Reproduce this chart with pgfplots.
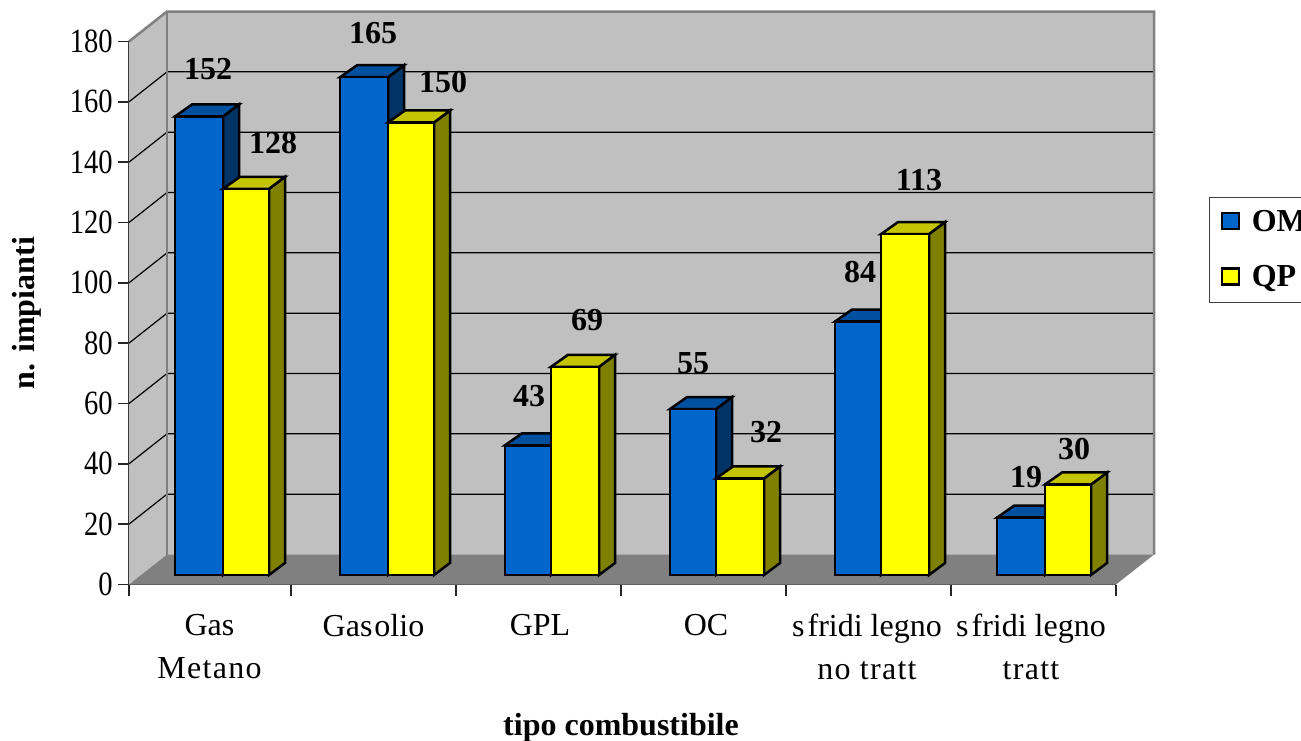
\documentclass[border=0pt]{standalone}
\usepackage{fontspec}
\setmainfont{Liberation Serif}
\usepackage{pgfplots}
\pgfplotsset{compat=1.18}
\definecolor{wallgray}{RGB}{192,192,192}
\definecolor{floorgray}{RGB}{128,128,128}
\definecolor{bluefront}{RGB}{0,102,204}
\definecolor{bluetop}{RGB}{0,80,160}
\definecolor{blueside}{RGB}{0,51,102}
\definecolor{yelfront}{RGB}{255,255,0}
\definecolor{yeltop}{RGB}{196,196,0}
\definecolor{yelside}{RGB}{128,128,0}
\newfontfamily\tickfont[FakeStretch=0.84]{Liberation Serif}
\newcommand\spaced[1]{{\addfontfeature{LetterSpace=4}#1}}

% x is in reference pixels, y in plant counts
% #1 left, #2 right, #3 value, #4 colour prefix, #5 label x pixel, #6 label y pixel
\newcommand\tdbar[6]{%
  \pgfmathsetmacro\ya{3.15}%
  \pgfmathsetmacro\yb{3.15+#3}%
  \pgfmathsetmacro\yc{\ya+3.98}%
  \pgfmathsetmacro\yd{\yb+3.98}%
  \pgfmathsetmacro\xc{#2+16}%
  \pgfmathsetmacro\xd{#1+17}%
  \pgfmathsetmacro\ly{(584.5-#6)/3.0167}%
  \edef\tmp{%
    \noexpand\addplot[forget plot,draw=black,line width=1.25pt,line join=miter,fill=#4side]
      coordinates {(#2,\ya) (\xc,\yc) (\xc,\yd) (#2,\yb)} -- cycle;
    \noexpand\addplot[forget plot,draw=black,line width=1.25pt,line join=miter,fill=#4top]
      coordinates {(#1,\yb) (\xd,\yd) (\xc,\yd) (#2,\yb)} -- cycle;
    \noexpand\addplot[forget plot,draw=black,line width=1.25pt,line join=miter,fill=#4front]
      coordinates {(#1,\ya) (#1,\yb) (#2,\yb) (#2,\ya)} -- cycle;
    \noexpand\node[dlabel] at (axis cs:#5,\ly) {#3};
  }\tmp
}

\begin{document}
\begin{tikzpicture}[
    dlabel/.style={font=\fontsize{16}{16}\selectfont\bfseries,inner sep=0pt}]
\useasboundingbox (0pt,0pt) rectangle (650.5pt,370pt);
\begin{axis}[
    at={(64.5pt,77.75pt)}, anchor=south west,
    scale only axis, width=493.5pt, height=271.5pt,
    xmin=129, xmax=1116, ymin=0, ymax=180,
    clip=false,
    axis x line=bottom, axis y line=left,
    axis line style={-, color=black!85, line width=0.8pt},
    tick style={color=black!85, line width=0.8pt},
    major tick length=5.5pt,
    tick align=outside,
    ytick={0,20,...,180},
    /pgf/number format/assume math mode=true,
    yticklabel style={font=\tickfont\fontsize{17}{17}\selectfont, inner sep=0pt, xshift=-2.5pt},
    xtick={129,291,456,621,786,951,1116},
    xticklabels={},
    extra x ticks={209.5,373.5,540,706,867,1031},
    extra x tick labels={{Gas\\\spaced{Metano}},{Gas\kern1pt olio},GPL,OC,
      {s\kern1.5pt fridi legno\\\spaced{no tratt}},{s\kern1.5pt fridi legno\\\spaced{tratt}}},
    extra x tick style={
      major tick length=0pt,
      tick style={draw=none},
      xticklabel style={font=\fontsize{16}{21.5}\selectfont, align=center, inner sep=0pt, yshift=-14.5pt, anchor=north},
    },
    xlabel={\bfseries tipo combustibile},
    xlabel style={font=\fontsize{16}{16}\selectfont, at={(axis cs:621,-47.5)}, anchor=center, inner sep=0pt},
    ylabel={\bfseries n. impianti},
    ylabel style={font=\fontsize{16}{16}\selectfont, at={(axis cs:27,90)}, anchor=center, inner sep=0pt, rotate=0},
    legend style={at={(axis cs:1209,128.6)}, anchor=north west, draw=black!75, line width=0.6pt,
      font=\fontsize{16}{16}\selectfont\bfseries, row sep=11.5pt, inner xsep=5.5pt, inner ysep=4.5pt},
    legend cell align=left,
    legend image code/.code={\draw[#1,line width=1.1pt] (0pt,-3.5pt) rectangle (8.5pt,4.5pt);},
]
% walls and floor
\addplot[forget plot,fill=wallgray,draw=none] coordinates {(129,0) (167,9.94) (167,189.94) (129,180)} -- cycle;
\addplot[forget plot,fill=wallgray,draw=none] coordinates {(167,9.94) (1154,9.94) (1154,189.94) (167,189.94)} -- cycle;
\addplot[forget plot,fill=floorgray,draw=none] coordinates {(129,0) (167,9.94) (1154,9.94) (1116,0)} -- cycle;
% gridlines, value by value
\addplot[forget plot,black,line width=0.6pt] coordinates {(129,20) (167,29.94) (1154,29.94)};
\addplot[forget plot,black,line width=0.6pt] coordinates {(129,40) (167,49.94) (1154,49.94)};
\addplot[forget plot,black,line width=0.6pt] coordinates {(129,60) (167,69.94) (1154,69.94)};
\addplot[forget plot,black,line width=0.6pt] coordinates {(129,80) (167,89.94) (1154,89.94)};
\addplot[forget plot,black,line width=0.6pt] coordinates {(129,100) (167,109.94) (1154,109.94)};
\addplot[forget plot,black,line width=0.6pt] coordinates {(129,120) (167,129.94) (1154,129.94)};
\addplot[forget plot,black,line width=0.6pt] coordinates {(129,140) (167,149.94) (1154,149.94)};
\addplot[forget plot,black,line width=0.6pt] coordinates {(129,160) (167,169.94) (1154,169.94)};
% wall borders
\addplot[forget plot,floorgray,line width=1.25pt] coordinates {(129,180) (167,189.94) (1154,189.94) (1154,9.94)};
\addplot[forget plot,floorgray,line width=1.25pt] coordinates {(167,9.94) (167,189.94)};
% bars
\tdbar{175}{223}{152}{blue}{208}{69}
\tdbar{223}{269}{128}{yel}{273}{143}
\tdbar{340}{388}{165}{blue}{373}{33}
\tdbar{388}{434}{150}{yel}{443}{82}
\tdbar{505}{551}{43}{blue}{529}{396}
\tdbar{551}{599}{69}{yel}{587}{320}
\tdbar{670}{716}{55}{blue}{693}{363}
\tdbar{716}{764}{32}{yel}{766}{432}
\tdbar{835}{881}{84}{blue}{860}{272}
\tdbar{881}{929}{113}{yel}{919}{180}
\tdbar{997}{1045}{19}{blue}{1026}{477}
\tdbar{1045}{1091}{30}{yel}{1074}{449}
% legend
\addlegendimage{fill=bluefront,draw=black}
\addlegendentry{\hspace{4pt}\makebox[34pt][l]{OM}}
\addlegendimage{fill=yelfront,draw=black}
\addlegendentry{\hspace{4pt}\makebox[34pt][l]{QP}}
\end{axis}
\end{tikzpicture}
\end{document}
